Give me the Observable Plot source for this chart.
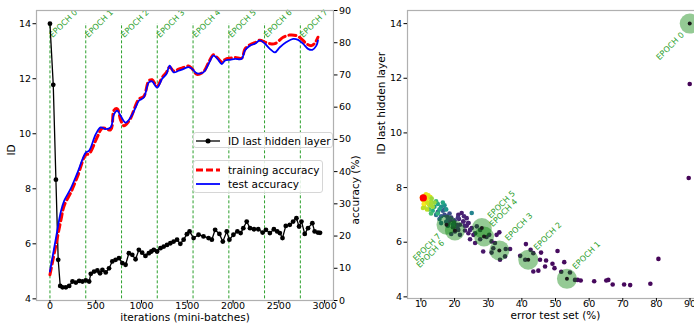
<!DOCTYPE html>
<html><head><meta charset="utf-8">
<script src="https://cdn.jsdelivr.net/npm/d3@7"></script>
<script src="https://cdn.jsdelivr.net/npm/@observablehq/plot@0.6"></script>
<style>
body{margin:0;background:#fff;font-family:"DejaVu Sans",sans-serif;}
#wrap{position:relative;width:694px;height:324px;overflow:hidden;background:#fff;}
.layer{position:absolute;top:0;}
.legend{position:absolute;background:rgba(255,255,255,0.85);border:1px solid #d6d6d6;border-radius:3px;font-size:10.5px;color:#000;line-height:14px;}
.legend .row{display:flex;align-items:center;height:14px;}
.legend svg{display:block;margin-left:1px;margin-right:8px;}
</style></head><body><div id="wrap"></div>
<script>
// ---------- data: left panel ----------
const idIter = [0,36,65,90,112,138,174,210,246,283,319,355,391,428,446,482,518,547,573,609,645,681,717,754,790,826,862,899,935,971,1007,1043,1080,1107,1134,1170,1207,1243,1279,1315,1351,1388,1424,1460,1496,1525,1569,1623,1677,1732,1768,1804,1851,1888,1931,1960,2004,2047,2083,2112,2149,2185,2228,2275,2323,2359,2402,2446,2482,2511,2540,2576,2620,2656,2692,2721,2747,2783,2819,2866,2891,2927,2950];
const idValue = [14.0,11.78,8.33,5.42,4.47,4.42,4.42,4.47,4.63,4.59,4.65,4.63,4.67,4.63,4.91,4.99,5.03,4.93,5.05,4.96,5.11,5.36,5.42,5.48,5.30,5.24,5.66,5.60,5.44,5.78,5.68,5.56,5.66,5.72,5.78,5.72,5.84,5.90,5.96,6.02,6.08,6.15,6.00,6.15,6.35,6.45,6.21,6.33,6.27,6.21,6.15,6.51,6.36,6.08,6.45,6.15,6.33,6.45,6.39,6.57,6.81,6.57,6.53,6.53,6.41,6.51,6.39,6.53,6.45,6.39,6.21,6.65,6.69,6.81,6.93,6.63,6.81,6.36,6.57,6.75,6.45,6.41,6.40];

const trainIter = [0,60,120,156,228,301,391,428,518,573,663,699,736,772,808,826,880,935,971,1025,1080,1116,1170,1225,1272,1308,1351,1405,1460,1514,1551,1605,1677,1732,1786,1830,1877,1913,1967,2022,2094,2130,2185,2239,2293,2348,2402,2457,2547,2620,2692,2747,2801,2855,2891,2927];
const trainAcc  = [8,16.5,25,29.5,33.5,38.5,45.2,45.5,50.8,53.5,53.0,59.0,59.5,56.0,54.2,54.5,56.5,60.5,62.5,63.3,68.2,68.5,66.5,69.2,70.8,72.5,71.2,71.8,72.3,72.8,72.0,70.2,71.0,73.8,76.3,75.3,74.0,74.8,75.2,75.4,75.2,78.0,79.4,80.0,80.8,80.2,79.7,79.7,81.7,82.4,82.2,81.2,79.7,79.1,79.8,81.7];
const testIter = [0,60,120,156,228,301,391,428,500,554,609,663,699,736,772,826,880,935,971,1025,1080,1116,1170,1225,1272,1308,1351,1405,1460,1514,1551,1605,1677,1732,1786,1830,1877,1913,1967,2022,2094,2130,2185,2239,2293,2348,2402,2457,2511,2583,2656,2710,2764,2819,2866,2910,2927];
const testAcc  = [9,18.5,27.7,31,34.8,39.7,45.9,46.5,51.6,53.7,53.2,53.7,57.8,58.9,57.3,55.2,56.8,59.9,62.0,63.0,67.7,68.0,66.1,68.8,70.3,72.9,70.8,71.3,71.9,72.4,71.9,70.5,70.8,73.4,76.0,75.0,73.4,74.5,74.7,75.0,75.0,77.6,79.1,79.7,80.7,79.7,78.1,77.0,78.6,80.2,81.2,80.9,79.7,78.1,77.8,79.1,80.7];

const epochIter = [0,391,782,1172,1563,1954,2344,2735];
const epochLabels = ["EPOCH 0","EPOCH 1","EPOCH 2","EPOCH 3","EPOCH 4","EPOCH 5","EPOCH 6","EPOCH 7"];
const xTicksL = [0,500,1000,1500,2000,2500,3000];
const yTicksID = [4,6,8,10,12,14];
const yTicksAcc = [0,10,20,30,40,50,60,70,80,90];

// ---------- data: right panel ----------
const scErr = [89.9,89.6,80.6,78.2,72.2,70.4,67.0,65.7,65.1,61.5,57.5,56.6,55.8,54.3,52.6,51.7,50.6,49.7,49.1,47.2,46.9,45.7,45.4,44.9,43.4,43.4,42.6,41.2,41.0,39.5,36.5,35.2,35.0,33.5,32.5,33.3,32.0,31.5,31.0,31.0,30.3,29.5,28.5,27.6,26.1,25.6,24.6,24.1,23.1,25.1,23.6,24.1,22.6,21.6,21.1,26.6,27.6,22.1,23.6,21.1,22.6,24.1,24.6,26.1,20.6,20.1,21.6,19.5,18.8,
  22.8,19.8,21.3,18.2,20.8,23.0,19.0,17.8,
  15,16,17,18,16.5,19,15.5,17.5,18.5,20,16,19.5,17,14.5,18,21,25.1,
  14,15,16,13.5,15.5,17,14.5,16.5,13,17.5,12.5,15,
  10.5,11,11.5,12,12.5,11,13,10.8,12.2,13.5,11.8,14,12.8,10.3,11.3,13.2,10.6,12,11.5,13];
const scID = [11.79,8.35,5.39,4.48,4.43,4.45,4.45,4.62,4.60,4.57,4.60,4.62,4.62,4.89,5.27,4.92,5.68,5.05,5.21,5.33,5.11,5.62,5.36,4.96,4.93,5.60,5.72,5.93,5.36,5.50,5.75,5.75,5.48,5.36,6.27,6.36,5.97,5.78,5.62,6.03,6.27,6.19,5.66,6.11,5.97,6.27,6.11,6.33,6.43,6.52,6.60,6.70,6.76,6.64,6.45,6.58,6.45,7.07,6.88,7.0,6.76,6.70,6.45,6.33,6.64,6.39,6.27,6.55,6.8,
  6.95,6.75,6.85,6.7,6.55,6.6,6.3,6.95,
  7.1,6.95,7.0,6.85,7.15,6.9,6.85,6.75,7.05,6.8,6.7,6.65,7.2,7.0,6.6,6.9,7.07,
  7.3,7.4,7.3,7.15,7.2,7.35,7.5,7.45,7.05,7.2,7.2,7.05,
  7.55,7.7,7.45,7.6,7.35,7.3,7.5,7.4,7.72,7.3,7.2,7.45,7.65,7.65,7.58,7.6,7.25,7.45,7.75,7.4];
const scTime = [0.01,0.01,0.01,0.02,0.02,0.02,0.02,0.02,0.02,0.02,0.02,0.02,0.02,0.03,0.03,0.03,0.03,0.03,0.03,0.03,0.03,0.03,0.03,0.03,0.04,0.04,0.04,0.04,0.04,0.04,0.05,0.05,0.05,0.05,0.05,0.05,0.05,0.05,0.05,0.05,0.06,0.06,0.06,0.06,0.06,0.06,0.07,0.07,0.07,0.07,0.07,0.07,0.07,0.08,0.08,0.08,0.08,0.08,0.09,0.09,0.09,0.09,0.09,0.09,0.1,0.1,0.1,0.1,0.12,
  0.1,0.12,0.11,0.14,0.12,0.1,0.13,0.15,
  0.25,0.3,0.22,0.2,0.28,0.18,0.32,0.26,0.24,0.17,0.35,0.2,0.3,0.38,0.22,0.15,0.45,
  0.55,0.6,0.5,0.62,0.58,0.5,0.68,0.6,0.7,0.52,0.72,0.65,
  0.95,0.97,0.93,0.98,0.9,0.92,0.88,0.99,0.96,0.86,0.9,0.84,0.94,1.0,0.97,0.85,0.9,0.93,0.96,0.87];
const epochErr = [89.9,53.4,41.9,33.3,28.75,28.1,20.1,17.6];
const epochID = [14.0,4.66,5.36,5.70,6.21,6.52,6.43,6.64];
const finalErr = [10.7];
const finalID = [7.62];
const xTicksR = [10,20,30,40,50,60,70,80,90];

// ---------- build ----------
const wrap = document.getElementById("wrap");
const FONT = "DejaVu Sans";
const GREEN = "#2ca02c";
const SPINE = "#b0b0b0";
const fmt = d => String(d);

const idData = idIter.map((x,i)=>({x, y:idValue[i]}));
const trainData = trainIter.map((x,i)=>({x, y:trainAcc[i]}));
const testData = testIter.map((x,i)=>({x, y:testAcc[i]}));

const W1 = 370, H = 324;
const leftCommon = {width:W1, height:H, marginLeft:36, marginRight:W1-333, marginTop:10, marginBottom:24,
  style:{fontFamily:FONT, fontSize:"9px", background:"transparent", color:"#000", overflow:"visible"}};
const xL = {domain:[-147,3097]};

const pID = Plot.plot({
  ...leftCommon,
  x:xL, y:{domain:[3.94,14.48]},
  marks:[
    Plot.ruleX(epochIter, {x:d=>d, y1:4, y2:14, stroke:GREEN, strokeWidth:1, strokeDasharray:"3,2"}),
    Plot.text(epochLabels, {x:(d,i)=>epochIter[i], y:13.55, text:d=>d, rotate:-45, textAnchor:"start", fill:GREEN, fontSize:8, dx:1}),
    Plot.line(idData, {x:"x", y:"y", stroke:"black", strokeWidth:1.3}),
    Plot.dot(idData, {x:"x", y:"y", fill:"black", r:2.4}),
    Plot.frame({stroke:SPINE, strokeWidth:1.2}),
    Plot.axisX({ticks:xTicksL, tickFormat:fmt, tickSize:3.5, tickPadding:-2, fontSize:9.5, label:null}),
    Plot.axisY({ticks:yTicksID, tickFormat:fmt, tickSize:3.5, tickPadding:2, fontSize:9.5, label:null}),
    Plot.text(["iterations (mini-batches)"], {frameAnchor:"bottom", dy:20.5, fontSize:10.5}),
    Plot.text(["ID"], {frameAnchor:"left", dx:-25, rotate:-90, fontSize:10.5})
  ]
});
pID.classList.add("layer"); pID.style.left="0px";
wrap.appendChild(pID);

const pAcc = Plot.plot({
  ...leftCommon,
  x:{...xL, axis:null}, y:{domain:[0,90]},
  marks:[
    Plot.line(trainData, {x:"x", y:"y", stroke:"red", strokeWidth:3, strokeDasharray:"7,4", curve:"catmull-rom"}),
    Plot.line(testData, {x:"x", y:"y", stroke:"blue", strokeWidth:1.8, curve:"catmull-rom"}),
    Plot.axisY({anchor:"right", ticks:yTicksAcc, tickFormat:fmt, tickSize:3.5, tickPadding:2, fontSize:9.5, label:null}),
    Plot.text(["accuracy (%)"], {frameAnchor:"right", dx:22, rotate:-90, fontSize:10.5})
  ]
});
pAcc.classList.add("layer"); pAcc.style.left="0px";
wrap.appendChild(pAcc);

// legends
function lineSwatch(color, width, dash, dot){
  return `<svg width="24" height="10"><line x1="0" y1="5" x2="24" y2="5" stroke="${color}" stroke-width="${width}" ${dash?`stroke-dasharray="${dash}"`:""}/>${dot?`<circle cx="12" cy="5" r="2.5" fill="${color}"/>`:""}</svg>`;
}
const lg1 = document.createElement("div");
lg1.className="legend";
Object.assign(lg1.style,{left:"193px", top:"132px", width:"140px", height:"16px", padding:"1px 0 0 1px", boxSizing:"border-box"});
lg1.innerHTML = `<div class="row">${lineSwatch("black",1.3,null,true)}<span>ID last hidden layer</span></div>`;
wrap.appendChild(lg1);
const lg2 = document.createElement("div");
lg2.className="legend";
Object.assign(lg2.style,{left:"193px", top:"160px", width:"130px", height:"33px", padding:"2px 0 0 1px", boxSizing:"border-box"});
lg2.innerHTML = `<div class="row">${lineSwatch("red",3,"7,3",false)}<span>training accuracy</span></div><div class="row">${lineSwatch("blue",1.8,null,false)}<span>test accuracy</span></div>`;
wrap.appendChild(lg2);

// right panel
const scData = scErr.map((x,i)=>({x, y:scID[i], t:scTime[i]}));
const epData = epochErr.map((x,i)=>({x, y:epochID[i], label:epochLabels[i]}));
const W2 = 373;
const pR = Plot.plot({
  width:W2, height:H, marginLeft:67, marginRight:10, marginTop:10, marginBottom:26,
  style:{fontFamily:FONT, fontSize:"9px", background:"transparent", color:"#000", overflow:"visible"},
  x:{domain:[6,94]}, y:{domain:[3.94,14.48]},
  color:{type:"linear", scheme:"viridis", domain:[0,1]},
  marks:[
    Plot.dot(scData, {x:"x", y:"y", fill:"t", r:2.3}),
    Plot.dot(epData, {x:"x", y:"y", r:10, fill:"#008000", fillOpacity:0.42}),
    Plot.dot(epData, {x:"x", y:"y", r:2, fill:"#1a1a1a"}),
    Plot.dot(finalErr.map((x,i)=>({x, y:finalID[i]})), {x:"x", y:"y", r:3.6, fill:"red"}),
    Plot.text(epData.filter((d,i)=>i>=1 && i<=5), {x:"x", y:"y", text:"label", rotate:-45, textAnchor:"start", fill:GREEN, fontSize:8, dx:7, dy:-11}),
    Plot.text(epData.filter((d,i)=>i===0 || i===7), {x:"x", y:"y", text:"label", rotate:-45, textAnchor:"end", fill:GREEN, fontSize:8, dx:-7, dy:10}),
    Plot.text(epData.filter((d,i)=>i===6), {x:"x", y:"y", text:"label", rotate:-45, textAnchor:"end", fill:GREEN, fontSize:8, dx:-12, dy:11}),
    Plot.frame({stroke:SPINE, strokeWidth:1.2}),
    Plot.axisX({ticks:xTicksR, tickFormat:fmt, tickSize:3.5, tickPadding:-2, fontSize:9.5, label:null}),
    Plot.axisY({ticks:yTicksID, tickFormat:fmt, tickSize:3.5, tickPadding:2, fontSize:9.5, label:null}),
    Plot.text(["error test set (%)"], {frameAnchor:"bottom", dy:20.5, fontSize:10.5}),
    Plot.text(["ID last hidden layer"], {frameAnchor:"left", dx:-26, rotate:-90, fontSize:10.5})
  ]
});
pR.classList.add("layer"); pR.style.left="340px";
wrap.appendChild(pR);
</script></body></html>
